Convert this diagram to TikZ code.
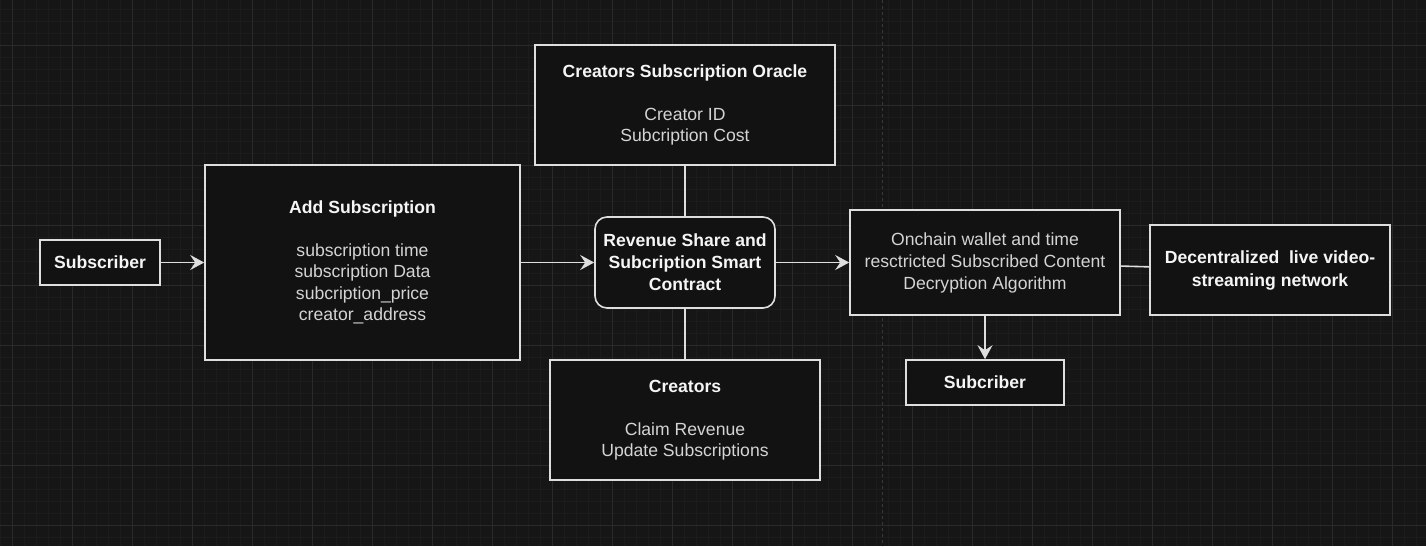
\documentclass[tikz,border=0pt]{standalone}
\usepackage{fontspec}
\setmainfont{Liberation Sans}
\usetikzlibrary{positioning,arrows.meta}
\definecolor{bgc}{RGB}{22,22,22}
\definecolor{boxc}{RGB}{18,18,18}
\definecolor{linec}{RGB}{222,222,222}
\definecolor{txtc}{RGB}{212,212,212}
\definecolor{titc}{RGB}{245,245,245}
\definecolor{minorc}{RGB}{28,28,28}
\definecolor{majorc}{RGB}{42,42,42}
\newcommand{\hd}[1]{{\color{titc}\bfseries #1}}

\begin{document}
\begin{tikzpicture}[x=1pt, y=-1pt,
  every node/.style={font=\fontsize{17.6}{21.5}\selectfont, text=txtc},
  box/.style={draw=linec, fill=boxc, line width=1.6pt, align=center, inner sep=0pt},
  arr/.style={draw=linec, line width=1.8pt, -{Stealth[length=14pt,width=15pt,inset=5pt]}},
  link/.style={draw=linec, line width=1.6pt}]
  % background and grid
  \fill[bgc] (0,0) rectangle (1426,546);
  \useasboundingbox (0,0) rectangle (1426,546);
  \foreach \x in {0,12,...,1416} \draw[minorc, line width=1pt] (\x,0) -- (\x,546);
  \foreach \y in {9,21,...,537} \draw[minorc, line width=1pt] (0,\y) -- (1426,\y);
  \foreach \x in {12,72,...,1392} \draw[majorc, line width=1pt] (\x,0) -- (\x,546);
  \foreach \y in {45,105,...,525} \draw[majorc, line width=1pt] (0,\y) -- (1426,\y);
  \draw[gray!45!black, line width=1pt, dashed] (882,0) -- (882,546);

  \node[box, minimum width=120pt, minimum height=45pt] (sub) at (100,262.5) {\hd{Subscriber}};
  \node[box, minimum width=315pt, minimum height=195pt] (add) at (362.5,262.5)
    {\hd{Add Subscription}\\[21.5pt]subscription time\\subscription Data\\subcription\_price\\creator\_address};
  \node[box, minimum width=300pt, minimum height=120pt] (oracle) at (685,105)
    {\hd{Creators Subscription Oracle}\\[21.5pt]Creator ID\\Subcription Cost};
  \node[box, rounded corners=12pt, minimum width=180pt, minimum height=91pt,
    font=\fontsize{17.6}{22}\selectfont] (rev) at (685,262.5)
    {\hd{Revenue Share and}\\\hd{Subcription Smart}\\\hd{Contract}};
  \node[box, minimum width=270pt, minimum height=120pt] (creators) at (685,420)
    {\hd{Creators}\\[21.5pt]Claim Revenue\\Update Subscriptions};
  \node[box, minimum width=270pt, minimum height=105pt,
    font=\fontsize{17.6}{22}\selectfont] (chain) at (985,262.5)
    {Onchain wallet and time\\resctricted Subscribed Content\\Decryption Algorithm};
  \node[box, minimum width=240pt, minimum height=90pt,
    font=\fontsize{17.6}{23}\selectfont] (dlv) at (1270,270)
    {\hd{Decentralized\ \ live video-}\\\hd{streaming network}};
  \node[box, minimum width=158pt, minimum height=45pt] (sub2) at (985,382.5) {\hd{Subcriber}};

  \draw[arr] (sub) -- (add);
  \draw[arr] (add) -- (rev);
  \draw[arr] (rev) -- (chain);
  \draw[arr] (chain) -- (sub2);
  \draw[link] (oracle) -- (rev);
  \draw[link] (rev) -- (creators);
  \draw[link] (chain) -- (dlv);
\end{tikzpicture}
\end{document}
